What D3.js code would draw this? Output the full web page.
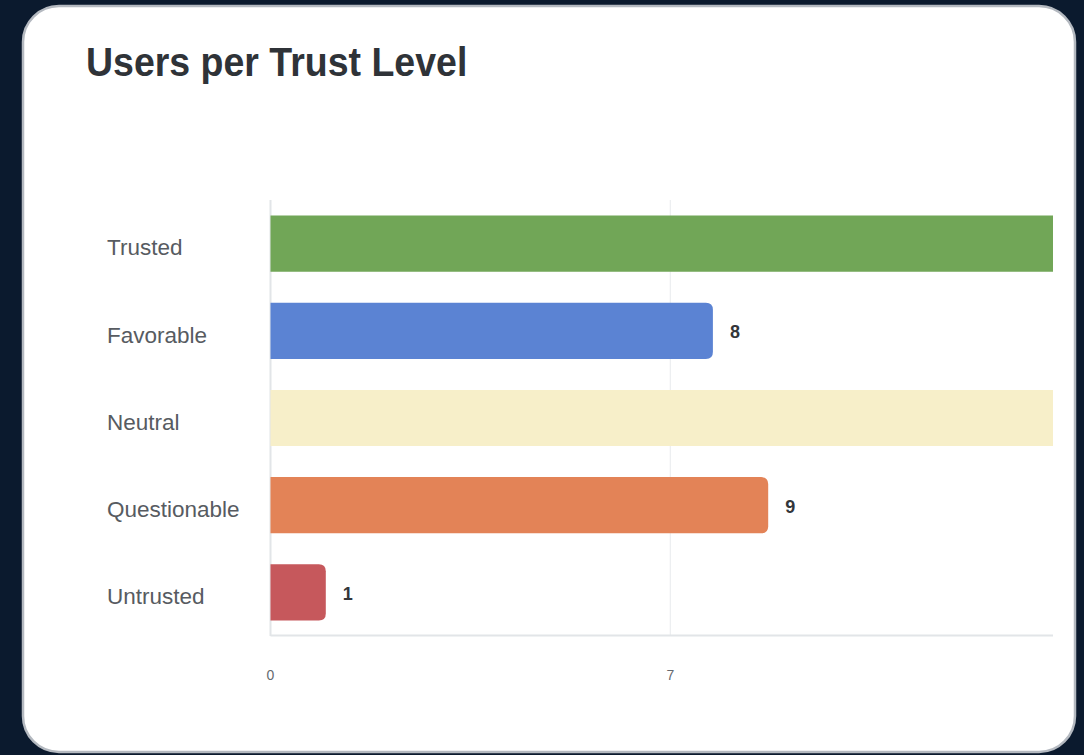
<!DOCTYPE html>
<html>
<head>
<meta charset="utf-8">
<script src="https://cdn.jsdelivr.net/npm/d3@7"></script>
<style>
  html, body { margin: 0; padding: 0; background: #0b1a2e; }
  svg { display: block; }
</style>
</head>
<body>
<svg id="chart" width="1084" height="755"></svg>
<script>
const categories = ["Trusted", "Favorable", "Neutral", "Questionable", "Untrusted"];
const values = [24, 8, 19, 9, 1];
const colors = ["#71a657", "#5b83d3", "#f7efc9", "#e38357", "#c6585c"];
const tickValues = [0, 7.23];
const tickLabels = ["0", "7"];
const title = "Users per Trust Level";

const svg = d3.select("#chart");

// card
svg.append("rect")
  .attr("x", 23).attr("y", 6).attr("width", 1052).attr("height", 746)
  .attr("rx", 36).attr("ry", 36)
  .attr("fill", "#ffffff").attr("stroke", "#b4b9c0").attr("stroke-width", 2.5);

svg.append("text")
  .attr("transform", "translate(86,76) scale(1,1.1)")
  .attr("font-family", "Liberation Sans, Arial, sans-serif")
  .attr("font-weight", "bold").attr("font-size", 37.5)
  .attr("fill", "#2f3338")
  .text(title);

const x = d3.scaleLinear().domain([0, 29]).range([270.5, 270.5 + 29 * 55.3]);
const y = d3.scaleBand().domain(categories).range([200, 636]).paddingInner(0.356).paddingOuter(0.178);
const clipRight = 1053;

svg.append("defs").append("clipPath").attr("id", "plotclip")
  .append("rect").attr("x", 260).attr("y", 190).attr("width", clipRight - 260).attr("height", 460);

const plot = svg.append("g").attr("clip-path", "url(#plotclip)");

// gridlines
plot.selectAll("line.grid").data(tickValues.slice(1)).join("line")
  .attr("class", "grid")
  .attr("x1", d => x(d)).attr("x2", d => x(d))
  .attr("y1", 200).attr("y2", 636)
  .attr("stroke", "#eceef0").attr("stroke-width", 1.2);

// axes lines
plot.append("line").attr("x1", x(0)).attr("x2", clipRight).attr("y1", 635.5).attr("y2", 635.5)
  .attr("stroke", "#e2e5e8").attr("stroke-width", 2);
plot.append("line").attr("x1", x(0)).attr("x2", x(0)).attr("y1", 200).attr("y2", 636)
  .attr("stroke", "#e2e5e8").attr("stroke-width", 2);

function barPath(x0, x1, y0, h, r) {
  r = Math.min(r, (x1 - x0) / 2, h / 2);
  return `M${x0},${y0} H${x1 - r} Q${x1},${y0} ${x1},${y0 + r} V${y0 + h - r} Q${x1},${y0 + h} ${x1 - r},${y0 + h} H${x0} Z`;
}

const data = categories.map((c, i) => ({ c, v: values[i], col: colors[i] }));

plot.selectAll("path.bar").data(data).join("path")
  .attr("class", "bar")
  .attr("d", d => barPath(x(0), x(d.v), y(d.c), y.bandwidth(), 7))
  .attr("fill", d => d.col);

// value labels (only those that fall inside the visible plot)
plot.selectAll("text.val").data(data.filter(d => x(d.v) + 40 < clipRight)).join("text")
  .attr("class", "val")
  .attr("x", d => x(d.v) + 17)
  .attr("y", d => y(d.c) + y.bandwidth() / 2 + 1)
  .attr("dy", "0.35em")
  .attr("font-family", "Liberation Sans, Arial, sans-serif")
  .attr("font-weight", "bold").attr("font-size", 18)
  .attr("fill", "#33363a")
  .text(d => d.v);

// category labels
svg.selectAll("text.cat").data(categories).join("text")
  .attr("class", "cat")
  .attr("x", 107)
  .attr("y", d => y(d) + y.bandwidth() / 2 + 4)
  .attr("dy", "0.35em")
  .attr("font-family", "Liberation Sans, Arial, sans-serif")
  .attr("font-size", 22.5)
  .attr("fill", "#575b61")
  .text(d => d);

// x ticks
svg.selectAll("text.tick").data(tickValues).join("text")
  .attr("class", "tick")
  .attr("x", d => x(d))
  .attr("y", 680)
  .attr("text-anchor", "middle")
  .attr("font-family", "Liberation Sans, Arial, sans-serif")
  .attr("font-size", 14)
  .attr("fill", "#666a70")
  .text((d, i) => tickLabels[i]);
</script>
</body>
</html>
